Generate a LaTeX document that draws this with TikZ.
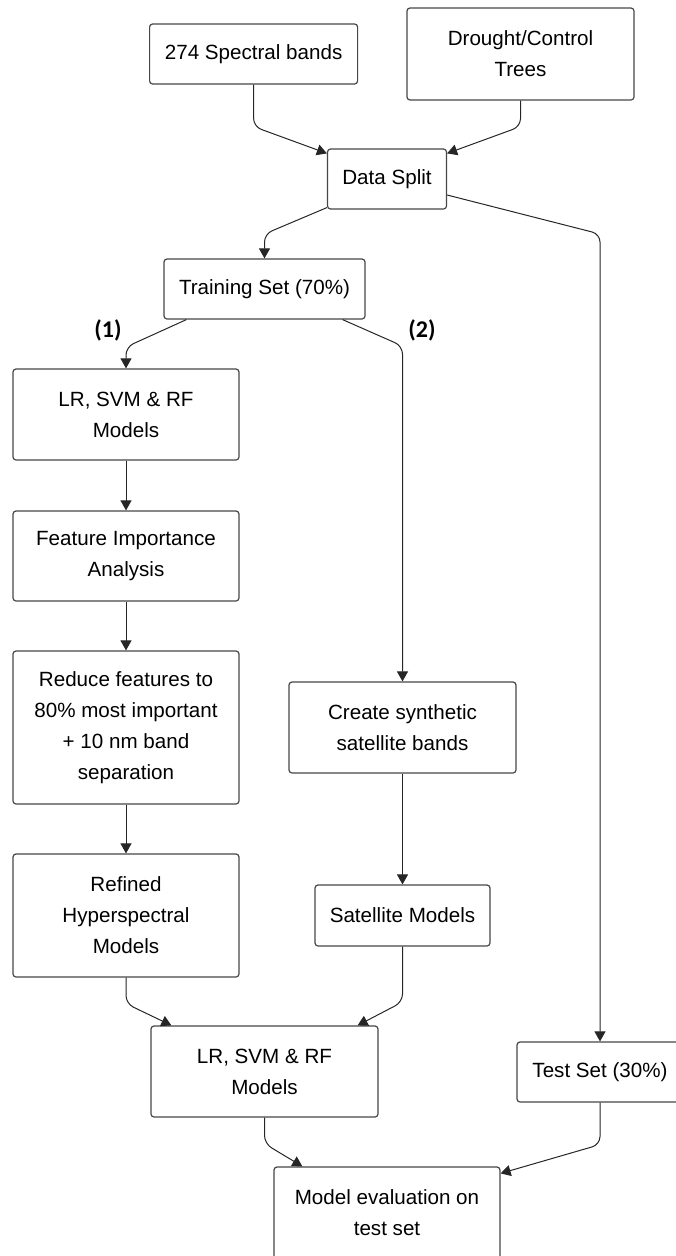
\documentclass[tikz,border=0pt]{standalone}
\usepackage{fontspec}
\setmainfont{Liberation Sans}
\newfontfamily\labelfont{Carlito}
\usetikzlibrary{arrows.meta}
\begin{document}
\begin{tikzpicture}[x=1pt,y=-1pt,
  box/.style={draw=black!72, line width=1.2pt, rounded corners=3pt, align=center,
    inner sep=0pt, font=\fontsize{20.6}{31}\selectfont, text=black},
  conn/.style={draw=black!85, line width=1pt, rounded corners=8pt,
    -{Triangle[width=11pt,length=10pt]}},
  lbl/.style={font=\labelfont\bfseries\fontsize{24}{28}\selectfont, inner sep=0pt}]
\useasboundingbox (0,0) rectangle (675,1256);
% nodes
\node[box, minimum width=208pt, minimum height=60pt] (sb) at (253.6,54) {274 Spectral bands};
\node[box, minimum width=227pt, minimum height=92pt] (dc) at (520.5,54) {Drought/Control\\Trees};
\node[box, minimum width=119pt, minimum height=60pt] (ds) at (387,179) {Data Split};
\node[box, minimum width=201pt, minimum height=60pt] (ts) at (264.5,289) {Training Set (70\%)};
\node[box, minimum width=226pt, minimum height=91pt] (m1) at (126,414.5) {LR, SVM \& RF\\Models};
\node[box, minimum width=226pt, minimum height=90pt] (fi) at (126,556) {Feature Importance\\Analysis};
\node[box, minimum width=226pt, minimum height=153pt] (rf) at (126,727.5) {Reduce features to\\80\% most important\\+ 10 nm band\\separation};
\node[box, minimum width=226pt, minimum height=123pt] (rh) at (126,915.5) {Refined\\Hyperspectral\\Models};
\node[box, minimum width=227pt, minimum height=91pt] (cs) at (402.5,727.5) {Create synthetic\\satellite bands};
\node[box, minimum width=175pt, minimum height=61pt] (sm) at (402.5,915.5) {Satellite Models};
\node[box, minimum width=227pt, minimum height=91pt] (m2) at (264.5,1071.5) {LR, SVM \& RF\\Models};
\node[box, minimum width=166pt, minimum height=60pt] (tt) at (600,1072) {Test Set (30\%)};
\node[box, minimum width=226pt, minimum height=92pt] (me) at (387,1213) {Model evaluation on\\test set};
% labels
\node[lbl] (l1) at (108,330) {(1)};
\node[lbl] (l2) at (422,330) {(2)};
% connectors
\draw[conn] (sb.south) -- ++(0,42) -- ([yshift=-5pt]ds.north west);
\draw[conn] (dc.south) -- ++(0,26) -- ([yshift=-5pt]ds.north east);
\draw[conn] ([yshift=2pt]ds.south west) -- (ts.north |- 0,234) -- (ts.north);
\draw[conn] ([yshift=-16pt]ds.east) -- (tt.north |- 0,234) -- (tt.north);
\draw[conn] ([xshift=23pt]ts.south west) -- (m1.north |- 0,347) -- (m1.north);
\draw[conn] ([xshift=-23pt]ts.south east) -- (cs.north |- 0,346) -- (cs.north);
\draw[conn] (m1.south) -- (fi.north);
\draw[conn] (fi.south) -- (rf.north);
\draw[conn] (rf.south) -- (rh.north);
\draw[conn] (cs.south) -- (sm.north);
\draw[conn] (rh.south) -- ++(0,26) -- ([xshift=21pt]m2.north west);
\draw[conn] (sm.south) -- (sm.south |- 0,1002) -- ([xshift=-21pt]m2.north east);
\draw[conn] (m2.south) -- ++(0,26) -- ([xshift=29pt]me.north west);
\draw[conn] (tt.south) -- ++(0,42) -- ([yshift=-7pt]me.north east);
\end{tikzpicture}
\end{document}
